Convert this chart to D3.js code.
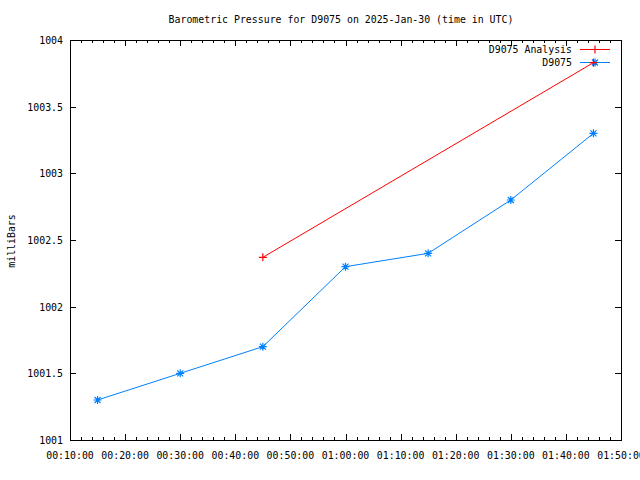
<!DOCTYPE html>
<html><head><meta charset="utf-8">
<script src="https://cdn.jsdelivr.net/npm/d3@7"></script>
<style>
body{margin:0;background:#fff;}
text{font-family:"DejaVu Sans Mono","Liberation Mono",monospace;font-size:9.9px;fill:#000;}
</style></head>
<body><svg id="c" width="640" height="480"></svg>
<script>
const chartTitle = "Barometric Pressure for D9075 on 2025-Jan-30 (time in UTC)";
const yLabel = "milliBars";
const obsTimes = ["00:15:00","00:30:00","00:45:00","01:00:00","01:15:00","01:30:00","01:45:00"];
const obsValues = [1001.3,1001.5,1001.7,1002.3,1002.4,1002.8,1003.3];
const anaTimes = ["00:45:00","01:45:00"];
const anaValues = [1002.37,1003.83];
const yTicks = [1001,1001.5,1002,1002.5,1003,1003.5,1004];
const seriesNames = ["D9075 Analysis","D9075"];

const day = "2025-01-30T";
const parse = t => new Date(day + t + "Z");
const svg = d3.select("#c");
const L=70,R=621,T=40,B=440;
const x = d3.scaleUtc().domain([parse("00:10:00"), parse("01:50:00")]).range([L,R]);
const y = d3.scaleLinear().domain([1001,1004]).range([B,T]);
const fmt = d3.utcFormat("%H:%M:%S");
const majors = x.ticks(d3.utcMinute.every(10));
const minors = x.ticks(d3.utcMinute.every(2));

const g = svg.append("g");
g.append("rect").attr("x",L+0.5).attr("y",T+0.5).attr("width",R-L).attr("height",B-T)
 .attr("fill","none").attr("stroke","#000").attr("stroke-width",1);
minors.forEach(d=>{
  const isMaj = d.getUTCMinutes()%10===0;
  const len = isMaj?6:3;
  const px = Math.round(x(d))+0.5;
  g.append("line").attr("x1",px).attr("x2",px).attr("y1",B).attr("y2",B-len).attr("stroke","#000");
  g.append("line").attr("x1",px).attr("x2",px).attr("y1",T).attr("y2",T+len).attr("stroke","#000");
});
majors.forEach(d=>{
  g.append("text").attr("x",x(d)).attr("y",B+19).attr("text-anchor","middle").text(fmt(d));
});
yTicks.forEach(v=>{
  const py = Math.round(y(v))+0.5;
  g.append("line").attr("x1",L).attr("x2",L+6).attr("y1",py).attr("y2",py).attr("stroke","#000");
  g.append("line").attr("x1",R).attr("x2",R-6).attr("y1",py).attr("y2",py).attr("stroke","#000");
  g.append("text").attr("x",L-7).attr("y",y(v)+4).attr("text-anchor","end").text(d3.format("")(v));
});
svg.append("text").attr("x",341).attr("y",23).attr("text-anchor","middle").text(chartTitle);
svg.append("text").attr("transform","translate(15,241) rotate(-90)").attr("text-anchor","middle").text(yLabel);

const red="#ff0000", blue="#0080ff";
function plus(sel,cx,cy,c){
  sel.append("path").attr("d",`M${cx-4},${cy}H${cx+4}M${cx},${cy-4}V${cy+4}`).attr("stroke",c).attr("stroke-width",1.2);
}
function star(sel,cx,cy,c){
  sel.append("path").attr("d",`M${cx-4},${cy}H${cx+4}M${cx},${cy-4}V${cy+4}M${cx-3},${cy-3}L${cx+3},${cy+3}M${cx-3},${cy+3}L${cx+3},${cy-3}`).attr("stroke",c).attr("stroke-width",1.2);
}
const line = d3.line().x(d=>x(parse(d[0]))).y(d=>y(d[1]));
const obs = obsTimes.map((t,i)=>[t,obsValues[i]]);
const ana = anaTimes.map((t,i)=>[t,anaValues[i]]);

svg.append("text").attr("x",572).attr("y",53).attr("text-anchor","end").text(seriesNames[0]);
svg.append("line").attr("x1",580).attr("x2",610).attr("y1",49.5).attr("y2",49.5).attr("stroke",red);
plus(svg,595,49.5,red);
svg.append("text").attr("x",572).attr("y",66).attr("text-anchor","end").text(seriesNames[1]);
svg.append("line").attr("x1",580).attr("x2",610).attr("y1",62.5).attr("y2",62.5).attr("stroke",blue);
star(svg,595,62.5,blue);

svg.append("path").datum(ana).attr("d",line).attr("fill","none").attr("stroke",red).attr("stroke-width",1);
ana.forEach(d=>plus(svg,x(parse(d[0])),y(d[1]),red));
svg.append("path").datum(obs).attr("d",line).attr("fill","none").attr("stroke",blue).attr("stroke-width",1);
obs.forEach(d=>star(svg,x(parse(d[0])),y(d[1]),blue));
</script></body></html>
